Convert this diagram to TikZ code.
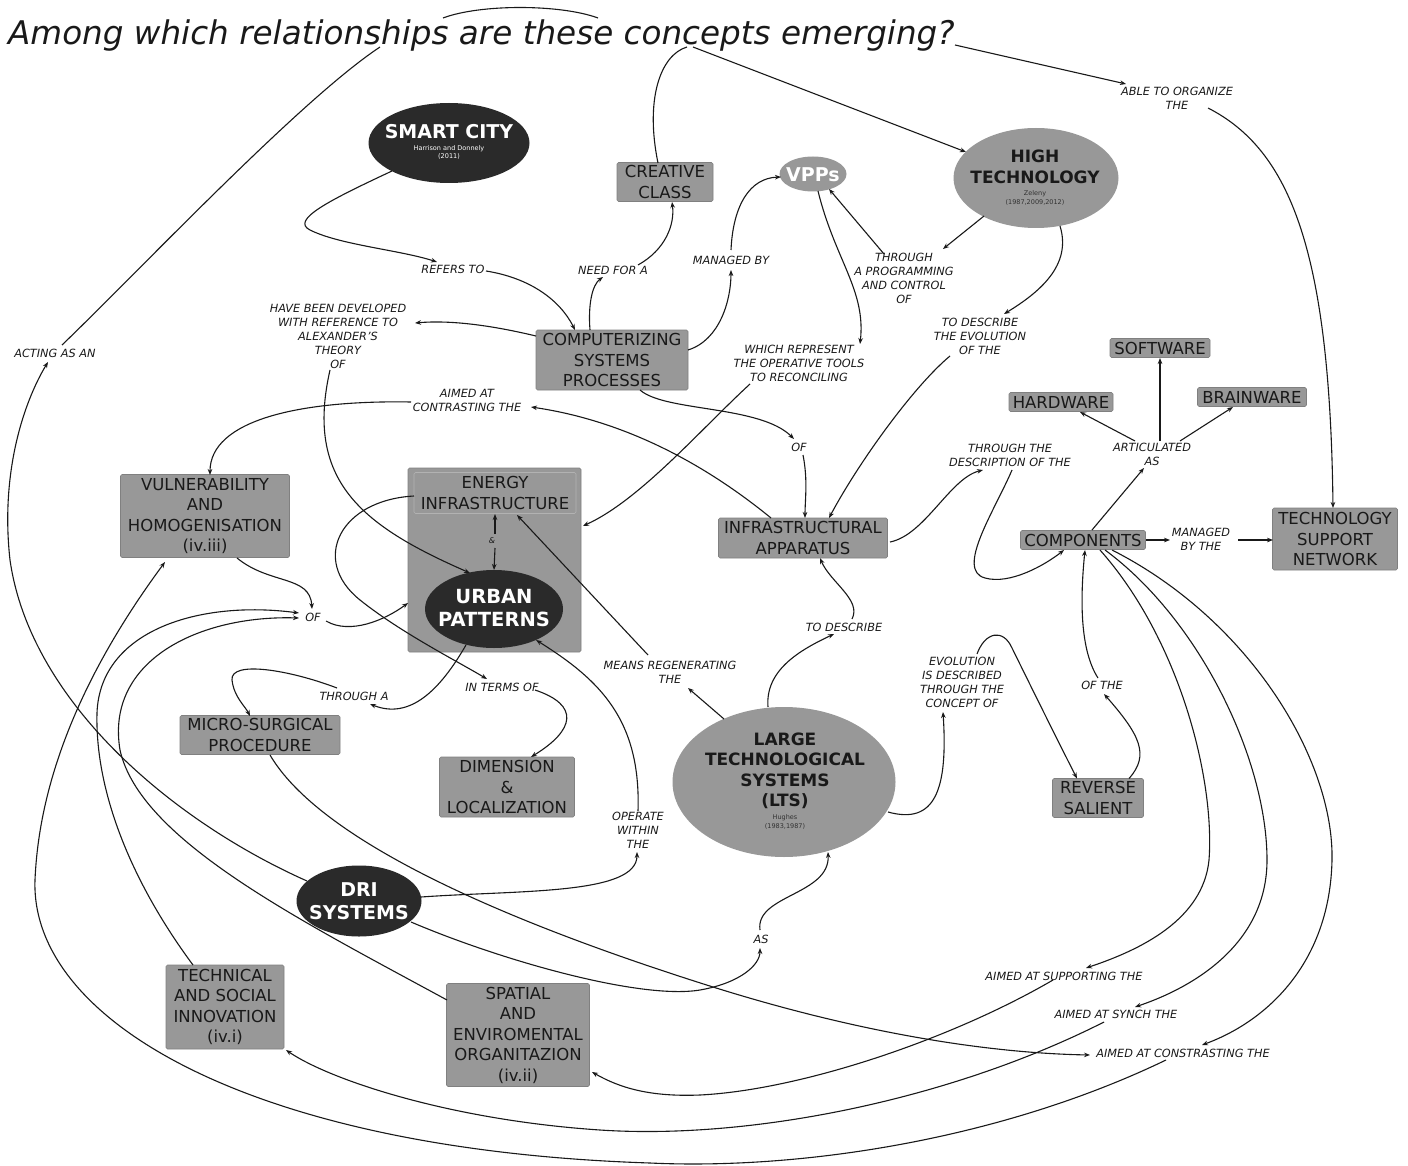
\documentclass[tikz,border=0pt]{standalone}
\usepackage{fontspec}
\setmainfont{DejaVu Sans}
\usetikzlibrary{shapes.geometric,arrows.meta}
\definecolor{boxgray}{RGB}{152,152,152}
\definecolor{boxedge}{RGB}{128,128,128}
\definecolor{lightedge}{RGB}{178,178,178}
\definecolor{darkfill}{RGB}{42,42,42}
\definecolor{ink}{RGB}{25,25,25}
\definecolor{citeink}{RGB}{50,50,50}
\newcommand{\boxfont}{\fontsize{16.5}{20.5}\selectfont}
\newcommand{\lblfont}{\itshape\fontsize{11.3}{14}\selectfont}
\tikzset{
  cbox/.style={rectangle, fill=boxgray, draw=boxedge, line width=0.6pt, rounded corners=1.5pt,
               align=center, font=\boxfont, text=ink, inner sep=0pt},
  lbl/.style={align=center, font=\lblfont, text=ink, inner sep=1pt},
  ell/.style={ellipse, inner sep=0pt, draw=none},
  etext/.style={align=center, inner sep=0pt},
  cite/.style={align=center, inner sep=0pt, font=\fontsize{6.5}{8.5}\selectfont},
  conn/.style={draw=ink, line width=1.1pt},
  arr/.style={conn, -{Stealth[length=6pt,width=4.6pt]}},
}
\begin{document}
\begin{tikzpicture}[x=1pt,y=-1pt]
\useasboundingbox (0,0) rectangle (1408,1166);
\fill[white] (0,0) rectangle (1408,1166);

% ---------- title ----------
\node[anchor=base west, inner sep=0pt, text=ink, font=\itshape\fontsize{32.6}{38}\selectfont] (title) at (8,45)
  {Among which relationships are these concepts emerging?};
\coordinate (t1) at (380,47);
\coordinate (t2) at (687,47);
\coordinate (t3) at (693,47);
\coordinate (t4) at (955,45);
\coordinate (tA) at (443,18);
\coordinate (tB) at (598,18);

% ---------- ellipses ----------
\node[ell, fill=darkfill, minimum width=161pt, minimum height=80pt] (sc) at (449,143) {};
\node[etext, text=white, font=\bfseries\fontsize{19}{22}\selectfont] at (449,131.5) {SMART CITY};
\node[cite, text=white] at (449,152.5) {Harrison and Donnely\\(2011)};

\node[ell, fill=boxgray, minimum width=67pt, minimum height=35pt] (vpp) at (813,174) {};
\node[etext, text=white, font=\bfseries\fontsize{19}{22}\selectfont] at (813,175) {VPPs};

\node[ell, fill=boxgray, minimum width=165pt, minimum height=100pt] (ht) at (1036,178) {};
\node[etext, text=ink, font=\bfseries\fontsize{17}{20.5}\selectfont] at (1035,167) {HIGH\\TECHNOLOGY};
\node[cite, text=citeink] at (1035,198) {Zeleny\\(1987,2009,2012)};

\node[ell, fill=boxgray, minimum width=223pt, minimum height=150pt] (lts) at (784,782) {};
\node[etext, text=ink, font=\bfseries\fontsize{17}{20.5}\selectfont] at (785,771) {LARGE\\TECHNOLOGICAL\\SYSTEMS\\(LTS)};
\node[cite, text=citeink] at (785,822) {Hughes\\(1983,1987)};

\node[ell, fill=darkfill, minimum width=125pt, minimum height=71pt] (dri) at (359,901) {};
\node[etext, text=white, font=\bfseries\fontsize{19}{23}\selectfont] at (359,901.5) {DRI\\SYSTEMS};

% ---------- energy box ----------
\node[cbox, minimum width=173pt, minimum height=184pt] (ebox) at (494.5,560) {};
\node[cbox, draw=lightedge, minimum width=162pt, minimum height=41pt] (ei) at (495,493) {ENERGY\\INFRASTRUCTURE};
\node[ell, fill=darkfill, minimum width=138pt, minimum height=78pt] (up) at (494,609) {};
\node[etext, text=white, font=\bfseries\fontsize{19.5}{23.5}\selectfont] at (494,608) {URBAN\\PATTERNS};
\node[lbl, font=\itshape\fontsize{8}{9}\selectfont] (amp) at (492,541) {\&};

% ---------- boxes ----------
\node[cbox, minimum width=96pt, minimum height=39pt] (cc) at (665,182) {CREATIVE\\CLASS};
\node[cbox, minimum width=152pt, minimum height=60pt] (csp) at (612,360) {COMPUTERIZING\\SYSTEMS\\PROCESSES};
\node[cbox, minimum width=100pt, minimum height=19pt] (sw) at (1160,348) {SOFTWARE};
\node[cbox, minimum width=104pt, minimum height=19pt] (hw) at (1061,402) {HARDWARE};
\node[cbox, minimum width=109pt, minimum height=19pt] (bw) at (1252,397) {BRAINWARE};
\node[cbox, minimum width=169pt, minimum height=83pt] (vul) at (205,516) {VULNERABILITY\\AND\\HOMOGENISATION\\(iv.iii)};
\node[cbox, minimum width=169pt, minimum height=40pt] (ia) at (803,538) {INFRASTRUCTURAL\\APPARATUS};
\node[cbox, minimum width=125pt, minimum height=19pt] (comp) at (1083,540) {COMPONENTS};
\node[cbox, minimum width=125pt, minimum height=62pt] (tsn) at (1335,539) {TECHNOLOGY\\SUPPORT\\NETWORK};
\node[cbox, minimum width=160pt, minimum height=39pt] (ms) at (260,735) {MICRO-SURGICAL\\PROCEDURE};
\node[cbox, minimum width=135pt, minimum height=60pt] (dim) at (507,787) {DIMENSION\\\&\\LOCALIZATION};
\node[cbox, minimum width=91pt, minimum height=39pt] (rs) at (1098,798) {REVERSE\\SALIENT};
\node[cbox, minimum width=118pt, minimum height=84pt] (tsi) at (225,1007) {TECHNICAL\\AND SOCIAL\\INNOVATION\\(iv.i)};
\node[cbox, minimum width=143pt, minimum height=103pt] (sp) at (518,1035) {SPATIAL\\AND\\ENVIROMENTAL\\ORGANITAZION\\(iv.ii)};

% ---------- linking phrases ----------
\node[lbl] (able) at (1177,98) {ABLE TO ORGANIZE\\THE};
\node[lbl] (refers) at (453,269) {REFERS TO};
\node[lbl] (need) at (613,270) {NEED FOR A};
\node[lbl] (managed) at (731,260) {MANAGED BY};
\node[lbl] (thr1) at (904,278) {THROUGH\\A PROGRAMMING\\AND CONTROL\\OF};
\node[lbl] (have) at (338,336) {HAVE BEEN DEVELOPED\\WITH REFERENCE TO\\ALEXANDER'S\\THEORY\\OF};
\node[lbl] (tde1) at (980,336) {TO DESCRIBE\\THE EVOLUTION\\OF THE};
\node[lbl] (which) at (799,363) {WHICH REPRESENT\\THE OPERATIVE TOOLS\\TO RECONCILING};
\node[lbl] (acting) at (55,353) {ACTING AS AN};
\node[lbl] (aimc) at (467,400) {AIMED AT\\CONTRASTING THE};
\node[lbl] (of1) at (799,447) {OF};
\node[lbl] (thrd) at (1010,455) {THROUGH THE\\DESCRIPTION OF THE};
\node[lbl] (artic) at (1152,454) {ARTICULATED\\AS};
\node[lbl] (mbt) at (1201,539) {MANAGED\\BY THE};
\node[lbl] (of2) at (313,617) {OF};
\node[lbl] (tde2) at (844,627) {TO DESCRIBE};
\node[lbl] (means) at (670,672) {MEANS REGENERATING\\THE};
\node[lbl] (thra) at (354,696) {THROUGH A};
\node[lbl] (interms) at (502,687) {IN TERMS OF};
\node[lbl] (evol) at (962,682) {EVOLUTION\\IS DESCRIBED\\THROUGH THE\\CONCEPT OF};
\node[lbl] (ofthe) at (1102,685) {OF THE};
\node[lbl] (operate) at (638,830) {OPERATE\\WITHIN\\THE};
\node[lbl] (as) at (761,939) {AS};
\node[lbl] (asup) at (1064,976) {AIMED AT SUPPORTING THE};
\node[lbl] (asyn) at (1116,1014) {AIMED AT SYNCH THE};
\node[lbl] (acon) at (1183,1053) {AIMED AT CONSTRASTING THE};

% ---------- connectors ----------
\draw[arr] ([shift={(-57,28)}]sc.center) .. controls (330,200) and (290,220) .. (310,230) .. controls (340,245) and (400,250) .. ([shift={(-16,-7)}]refers.center);
\draw[arr] ([shift={(33,2)}]refers.center) .. controls (530,278) and (560,300) .. ([shift={(-37,-30)}]csp.center);
\draw[arr] ([shift={(-22,-30)}]csp.center) .. controls (588,305) and (592,285) .. ([shift={(-10,7)}]need.center);
\draw[arr] ([shift={(25,-5)}]need.center) .. controls (665,250) and (675,225) .. ([shift={(7,20)}]cc.center);
\draw[arr] ([shift={(76,-10)}]csp.center) .. controls (720,340) and (731,300) .. ([shift={(0,10)}]managed.center);
\draw[arr] ([shift={(0,-10)}]managed.center) .. controls (733,205) and (750,178) .. ([shift={(-32,3)}]vpp.center);
\draw[arr] ([shift={(-76,-24)}]csp.center) .. controls (490,325) and (450,320) .. ([shift={(77,-13)}]have.center);
\draw[arr] ([shift={(-8,34)}]have.center) .. controls (305,480) and (360,525) .. ([shift={(-24,-36)}]up.center);
\draw[arr] ([shift={(28,30)}]csp.center) .. controls (665,412) and (760,405) .. ([shift={(-5,-8)}]of1.center);
\draw[arr] ([shift={(4,8)}]of1.center) .. controls (808,480) and (805,500) .. ([shift={(2,-20)}]ia.center);
\draw[arr] ([shift={(5,17)}]vpp.center) .. controls (835,260) and (866,290) .. ([shift={(61,-19)}]which.center);
\draw[arr] ([shift={(-49,21)}]which.center) .. controls (700,430) and (640,500) .. ([shift={(88.5,-34)}]ebox.center);
\draw[arr] ([shift={(-52,38)}]ht.center) -- ([shift={(39,-29)}]thr1.center);
\draw[arr] ([shift={(-20,-24)}]thr1.center) -- ([shift={(16,15)}]vpp.center);
\draw[arr] ([shift={(24,48)}]ht.center) .. controls (1072,265) and (1040,292) .. ([shift={(24,-22)}]tde1.center);
\draw[arr] ([shift={(-30,20)}]tde1.center) .. controls (915,385) and (860,460) .. ([shift={(26,-20)}]ia.center);
\draw[arr] ([shift={(-32,-20)}]ia.center) .. controls (700,460) and (620,420) .. ([shift={(64,7)}]aimc.center);
\draw[arr] ([shift={(-56,2)}]aimc.center) .. controls (300,400) and (210,420) .. ([shift={(5,-41)}]vul.center);
\draw[arr] ([shift={(87,4)}]ia.center) .. controls (925,535) and (950,478) .. ([shift={(-27,15)}]thrd.center);
\draw[arr] ([shift={(2,15)}]thrd.center) .. controls (995,510) and (955,570) .. (985,578) .. controls (1010,585) and (1045,565) .. ([shift={(-19,10)}]comp.center);
\draw[arr] ([shift={(9,-10)}]comp.center) -- ([shift={(-8,14)}]artic.center);
\draw[arr] ([shift={(-17,-13)}]artic.center) -- ([shift={(19,10)}]hw.center);
\draw[arr] ([shift={(8,-13)}]artic.center) -- ([shift={(0,10)}]sw.center);
\draw[arr] ([shift={(28,-13)}]artic.center) -- ([shift={(-19,10)}]bw.center);
\draw[arr] ([shift={(63,0)}]comp.center) -- ([shift={(-31,1)}]mbt.center);
\draw[arr] ([shift={(37,1)}]mbt.center) -- ([shift={(-62,1)}]tsn.center);
\draw[arr] ([shift={(31,10)}]able.center) .. controls (1290,150) and (1330,250) .. ([shift={(-2,-31)}]tsn.center);
\draw[arr] (t4) -- ([shift={(-51,-14)}]able.center);
\draw[conn] ([shift={(-7,-19)}]cc.center) .. controls (645,100) and (660,55) .. (t2);
\draw[arr] (t3) -- ([shift={(-70,-26)}]ht.center);
\draw[conn] ([shift={(7,-8)}]acting.center) .. controls (140,270) and (300,100) .. (t1);
\draw[conn] (tA) .. controls (480,4) and (560,4) .. (tB);
\draw[arr] ([shift={(-52,-20)}]dri.center) .. controls (170,820) and (30,700) .. (10,560) .. controls (0,470) and (25,400) .. ([shift={(-7,9)}]acting.center);
\draw[arr] ([shift={(32,42)}]vul.center) .. controls (270,585) and (310,575) .. ([shift={(-1,-8)}]of2.center);
\draw[arr] ([shift={(13,4)}]of2.center) .. controls (350,635) and (385,620) .. ([shift={(-86.5,43)}]ebox.center);
\draw[arr] ([shift={(-32,-42)}]tsi.center) .. controls (130,880) and (95,790) .. (97,713) .. controls (100,630) and (200,600) .. ([shift={(-14,-4)}]of2.center);
\draw[arr] ([shift={(-71,-35)}]sp.center) .. controls (300,920) and (140,840) .. (120,750) .. controls (105,660) and (200,615) .. ([shift={(-14,1)}]of2.center);
\draw[arr] ([shift={(-17,7)}]acon.center) .. controls (1000,1140) and (800,1170) .. (650,1163) .. controls (250,1150) and (30,1020) .. (35,880) .. controls (40,760) and (100,650) .. ([shift={(-40,46)}]vul.center);
\draw[arr] ([shift={(-12,8)}]asyn.center) .. controls (950,1100) and (750,1140) .. (600,1130) .. controls (450,1120) and (330,1080) .. ([shift={(61,43)}]tsi.center);
\draw[arr] ([shift={(-11,4)}]asup.center) .. controls (950,1040) and (800,1090) .. (700,1095) .. controls (650,1097) and (620,1088) .. ([shift={(74,37)}]sp.center);
\draw[arr] ([shift={(17,10)}]comp.center) .. controls (1180,640) and (1215,780) .. (1209,860) .. controls (1203,920) and (1140,950) .. ([shift={(22,-8)}]asup.center);
\draw[arr] ([shift={(22,10)}]comp.center) .. controls (1200,620) and (1267,760) .. (1267,860) .. controls (1267,940) and (1200,985) .. ([shift={(19,-7)}]asyn.center);
\draw[arr] ([shift={(29,10)}]comp.center) .. controls (1250,620) and (1334,760) .. (1332,860) .. controls (1330,960) and (1270,1020) .. ([shift={(19,-8)}]acon.center);
\draw[arr] ([shift={(10,20)}]ms.center) .. controls (320,840) and (500,920) .. (713,987) .. controls (850,1030) and (980,1053) .. ([shift={(-93,2)}]acon.center);
\draw[arr] ([shift={(52,21)}]dri.center) .. controls (500,960) and (640,1000) .. (700,990) .. controls (740,983) and (760,965) .. ([shift={(-1,9)}]as.center);
\draw[arr] ([shift={(-1,-9)}]as.center) .. controls (755,895) and (830,895) .. ([shift={(44,70)}]lts.center);
\draw[arr] ([shift={(62,-4)}]dri.center) .. controls (520,890) and (637,895) .. ([shift={(-1,22)}]operate.center);
\draw[arr] ([shift={(0,-19)}]operate.center) .. controls (641,720) and (600,680) .. ([shift={(42,31)}]up.center);
\draw[arr] ([shift={(-28,36)}]up.center) .. controls (440,690) and (410,720) .. ([shift={(16,8)}]thra.center);
\draw[arr] ([shift={(-17,-8)}]thra.center) .. controls (290,670) and (230,660) .. (232,680) .. controls (234,697) and (245,706) .. ([shift={(-10,-19)}]ms.center);
\draw[arr] ([shift={(-81,3)}]ei.center) .. controls (340,500) and (310,560) .. (360,600) .. controls (400,632) and (455,660) .. ([shift={(-15,-8)}]interms.center);
\draw[arr] ([shift={(33,3)}]interms.center) .. controls (580,705) and (575,730) .. ([shift={(24,-30)}]dim.center);
\draw[arr] ([shift={(-60,-63)}]lts.center) -- ([shift={(18,16)}]means.center);
\draw[arr] ([shift={(-22,-17)}]means.center) -- ([shift={(22,22)}]ei.center);
\draw[arr] ([shift={(-16,-75)}]lts.center) .. controls (765,670) and (800,650) .. ([shift={(-10,7)}]tde2.center);
\draw[arr] ([shift={(8,-8)}]tde2.center) .. controls (862,600) and (830,582) .. ([shift={(17,20)}]ia.center);
\draw[arr] ([shift={(104,30)}]lts.center) .. controls (935,825) and (948,790) .. ([shift={(-19,30)}]evol.center);
\draw[arr] ([shift={(15,-28)}]evol.center) .. controls (985,632) and (1003,628) .. (1012,648) .. controls (1040,705) and (1065,755) .. ([shift={(-21,-19.5)}]rs.center);
\draw[arr] ([shift={(31,-19.5)}]rs.center) .. controls (1150,755) and (1140,735) .. ([shift={(2,9)}]ofthe.center);
\draw[arr] ([shift={(-4,-7)}]ofthe.center) .. controls (1080,650) and (1080,600) .. ([shift={(2,10)}]comp.center);
\draw[arr] ([shift={(3,-7)}]amp.center) -- ([shift={(0,21)}]ei.center);
\draw[arr] ([shift={(3,7)}]amp.center) -- ([shift={(0,-39)}]up.center);
\end{tikzpicture}
\end{document}
